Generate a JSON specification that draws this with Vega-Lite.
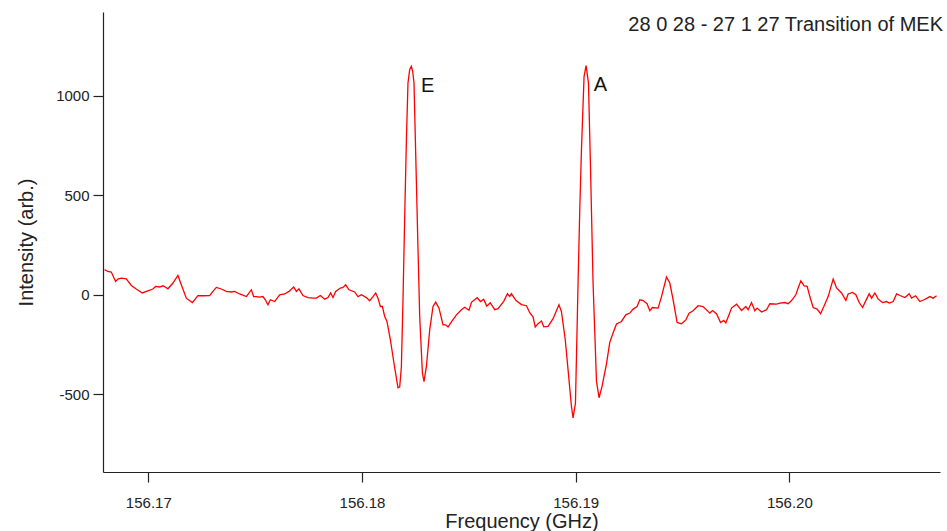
{
  "$schema": "https://vega.github.io/schema/vega-lite/v6.json",
  "width": 837,
  "height": 460,
  "autosize": {"type": "none"},
  "padding": {"left": 103, "top": 12, "right": 7, "bottom": 59},
  "background": "white",
  "config": {
    "view": {"stroke": null},
    "font": "Liberation Sans",
    "axis": {
      "domainColor": "#222222", "domainWidth": 1.2, "tickColor": "#222222", "tickWidth": 1.2, "tickSize": 10,
      "labelFont": "Liberation Sans", "labelFontSize": 15, "labelColor": "#222222",
      "titleFont": "Liberation Sans", "titleFontSize": 20, "titleFontWeight": "normal", "titleColor": "#222222",
      "grid": false
    }
  },
  "title": {
    "text": "28 0 28 - 27 1 27 Transition of MEK",
    "anchor": "end", "orient": "top", "offset": -15.5, "baseline": "alphabetic", "dx": 3, "dy": 23,
    "fontSize": 20, "fontWeight": "normal", "font": "Liberation Sans", "color": "#222222"
  },
  "datasets": {
    "spectrum": [
      {"freq":156.167954,"intensity":126},{"freq":156.168109,"intensity":117},{"freq":156.168268,"intensity":114},{"freq":156.168469,"intensity":67},{"freq":156.168577,"intensity":79},{"freq":156.168736,"intensity":84},{"freq":156.16897,"intensity":80},{"freq":156.169204,"intensity":47},{"freq":156.169438,"intensity":29},{"freq":156.169719,"intensity":9},{"freq":156.169981,"intensity":20},{"freq":156.170215,"intensity":29},{"freq":156.170342,"intensity":42},{"freq":156.170529,"intensity":39},{"freq":156.170684,"intensity":45},{"freq":156.170796,"intensity":39},{"freq":156.170918,"intensity":30},{"freq":156.171152,"intensity":59},{"freq":156.171386,"intensity":97},{"freq":156.171592,"intensity":37},{"freq":156.171779,"intensity":-17},{"freq":156.17206,"intensity":-39},{"freq":156.172322,"intensity":-4},{"freq":156.172556,"intensity":-5},{"freq":156.17287,"intensity":-4},{"freq":156.173024,"intensity":17},{"freq":156.173183,"intensity":37},{"freq":156.173418,"intensity":29},{"freq":156.173652,"intensity":17},{"freq":156.173886,"intensity":14},{"freq":156.17404,"intensity":17},{"freq":156.174274,"intensity":4},{"freq":156.174588,"intensity":-9},{"freq":156.174822,"intensity":25},{"freq":156.17493,"intensity":-9},{"freq":156.175056,"intensity":-9},{"freq":156.175211,"intensity":-12},{"freq":156.175365,"intensity":-9},{"freq":156.175477,"intensity":-25},{"freq":156.175599,"intensity":-50},{"freq":156.175712,"intensity":-25},{"freq":156.175913,"intensity":-34},{"freq":156.176147,"intensity":0},{"freq":156.176381,"intensity":4},{"freq":156.176582,"intensity":17},{"freq":156.176802,"intensity":39},{"freq":156.176929,"intensity":17},{"freq":156.177051,"intensity":30},{"freq":156.177238,"intensity":-4},{"freq":156.177472,"intensity":-14},{"freq":156.177706,"intensity":-17},{"freq":156.177865,"intensity":-17},{"freq":156.178052,"intensity":-4},{"freq":156.178254,"intensity":-22},{"freq":156.178408,"intensity":-14},{"freq":156.178535,"intensity":9},{"freq":156.178642,"intensity":-14},{"freq":156.178769,"intensity":17},{"freq":156.178989,"intensity":34},{"freq":156.17911,"intensity":37},{"freq":156.179237,"intensity":50},{"freq":156.179391,"intensity":25},{"freq":156.179658,"intensity":14},{"freq":156.179813,"intensity":-9},{"freq":156.179972,"intensity":0},{"freq":156.180206,"intensity":-14},{"freq":156.18036,"intensity":-30},{"freq":156.180515,"intensity":-9},{"freq":156.180641,"intensity":9},{"freq":156.180749,"intensity":-17},{"freq":156.180861,"intensity":-59},{"freq":156.180955,"intensity":-59},{"freq":156.181063,"intensity":-109},{"freq":156.18117,"intensity":-134},{"freq":156.181329,"intensity":-226},{"freq":156.181484,"intensity":-335},{"freq":156.18161,"intensity":-419},{"freq":156.181685,"intensity":-467},{"freq":156.181765,"intensity":-462},{"freq":156.181844,"intensity":-360},{"freq":156.181919,"intensity":-25},{"freq":156.181999,"intensity":393},{"freq":156.182079,"intensity":779},{"freq":156.182153,"intensity":1064},{"freq":156.182233,"intensity":1131},{"freq":156.182313,"intensity":1147},{"freq":156.182374,"intensity":1121},{"freq":156.182434,"intensity":1064},{"freq":156.182547,"intensity":561},{"freq":156.182622,"intensity":226},{"freq":156.182701,"intensity":-109},{"freq":156.182828,"intensity":-393},{"freq":156.182903,"intensity":-436},{"freq":156.183015,"intensity":-360},{"freq":156.183169,"intensity":-176},{"freq":156.183324,"intensity":-59},{"freq":156.18345,"intensity":-37},{"freq":156.183605,"intensity":-67},{"freq":156.183792,"intensity":-151},{"freq":156.183918,"intensity":-151},{"freq":156.184026,"intensity":-162},{"freq":156.184185,"intensity":-136},{"freq":156.18442,"intensity":-101},{"freq":156.184653,"intensity":-75},{"freq":156.184808,"intensity":-63},{"freq":156.185009,"intensity":-78},{"freq":156.185122,"intensity":-38},{"freq":156.185393,"intensity":-15},{"freq":156.185543,"intensity":-34},{"freq":156.185697,"intensity":-22},{"freq":156.185838,"intensity":-57},{"freq":156.186001,"intensity":-40},{"freq":156.186212,"intensity":-75},{"freq":156.186367,"intensity":-70},{"freq":156.186634,"intensity":-33},{"freq":156.186807,"intensity":5},{"freq":156.186915,"intensity":-8},{"freq":156.186994,"intensity":5},{"freq":156.187209,"intensity":-29},{"freq":156.187462,"intensity":-49},{"freq":156.187696,"intensity":-55},{"freq":156.187851,"intensity":-90},{"freq":156.188005,"intensity":-111},{"freq":156.188108,"intensity":-162},{"freq":156.18824,"intensity":-145},{"freq":156.188399,"intensity":-132},{"freq":156.188507,"intensity":-161},{"freq":156.188708,"intensity":-159},{"freq":156.188942,"intensity":-120},{"freq":156.189218,"intensity":-50},{"freq":156.189335,"intensity":-85},{"freq":156.189513,"intensity":-226},{"freq":156.189644,"intensity":-377},{"freq":156.189803,"intensity":-561},{"freq":156.189878,"intensity":-618},{"freq":156.18999,"intensity":-544},{"freq":156.190112,"intensity":59},{"freq":156.190192,"intensity":427},{"freq":156.190271,"intensity":729},{"freq":156.190393,"intensity":1097},{"freq":156.190487,"intensity":1151},{"freq":156.190599,"intensity":1064},{"freq":156.190693,"intensity":645},{"freq":156.190814,"intensity":59},{"freq":156.190974,"intensity":-435},{"freq":156.191095,"intensity":-517},{"freq":156.191231,"intensity":-461},{"freq":156.191442,"intensity":-347},{"freq":156.191596,"intensity":-239},{"freq":156.191751,"intensity":-192},{"freq":156.19191,"intensity":-147},{"freq":156.192144,"intensity":-134},{"freq":156.192345,"intensity":-101},{"freq":156.192533,"intensity":-92},{"freq":156.192687,"intensity":-72},{"freq":156.192874,"intensity":-59},{"freq":156.193001,"intensity":-25},{"freq":156.193155,"intensity":-29},{"freq":156.193342,"intensity":-45},{"freq":156.193469,"intensity":-80},{"freq":156.193595,"intensity":-64},{"freq":156.193857,"intensity":-67},{"freq":156.194017,"intensity":-9},{"freq":156.19425,"intensity":89},{"freq":156.194405,"intensity":59},{"freq":156.19456,"intensity":-25},{"freq":156.194747,"intensity":-139},{"freq":156.194953,"intensity":-146},{"freq":156.195154,"intensity":-126},{"freq":156.195309,"intensity":-92},{"freq":156.195496,"intensity":-80},{"freq":156.19573,"intensity":-55},{"freq":156.195964,"intensity":-59},{"freq":156.196278,"intensity":-92},{"freq":156.196404,"intensity":-79},{"freq":156.196591,"intensity":-95},{"freq":156.196779,"intensity":-139},{"freq":156.196933,"intensity":-129},{"freq":156.197027,"intensity":-142},{"freq":156.197134,"intensity":-112},{"freq":156.197294,"intensity":-67},{"freq":156.197528,"intensity":-47},{"freq":156.197762,"intensity":-79},{"freq":156.197963,"intensity":-59},{"freq":156.198071,"intensity":-75},{"freq":156.19823,"intensity":-39},{"freq":156.198384,"intensity":-80},{"freq":156.198492,"intensity":-67},{"freq":156.198698,"intensity":-87},{"freq":156.198932,"intensity":-75},{"freq":156.199087,"intensity":-45},{"freq":156.1994,"intensity":-47},{"freq":156.199555,"intensity":-42},{"freq":156.199789,"intensity":-39},{"freq":156.199943,"intensity":-45},{"freq":156.200103,"intensity":-29},{"freq":156.200304,"intensity":0},{"freq":156.200412,"intensity":34},{"freq":156.200538,"intensity":70},{"freq":156.200693,"intensity":45},{"freq":156.200833,"intensity":42},{"freq":156.200959,"intensity":-9},{"freq":156.201114,"intensity":-64},{"freq":156.201301,"intensity":-72},{"freq":156.20146,"intensity":-95},{"freq":156.201615,"intensity":-59},{"freq":156.201816,"intensity":-9},{"freq":156.20205,"intensity":79},{"freq":156.202209,"intensity":34},{"freq":156.202443,"intensity":9},{"freq":156.202645,"intensity":-29},{"freq":156.202752,"intensity":4},{"freq":156.202958,"intensity":12},{"freq":156.203113,"intensity":0},{"freq":156.203268,"intensity":-39},{"freq":156.203427,"intensity":-64},{"freq":156.203614,"intensity":-22},{"freq":156.203736,"intensity":5},{"freq":156.203848,"intensity":-17},{"freq":156.204003,"intensity":9},{"freq":156.204157,"intensity":-22},{"freq":156.204363,"intensity":-39},{"freq":156.20455,"intensity":-34},{"freq":156.204672,"intensity":-42},{"freq":156.204859,"intensity":-34},{"freq":156.205018,"intensity":4},{"freq":156.205206,"intensity":-5},{"freq":156.205407,"intensity":-14},{"freq":156.205608,"intensity":5},{"freq":156.205721,"intensity":-17},{"freq":156.205908,"intensity":-5},{"freq":156.206109,"intensity":-34},{"freq":156.206297,"intensity":-25},{"freq":156.206451,"intensity":-17},{"freq":156.206577,"intensity":-9},{"freq":156.206732,"intensity":-17},{"freq":156.206891,"intensity":-5}
    ],
    "labels": [
      {"freq": 156.183076, "intensity": 1047, "label": "E"},
      {"freq": 156.191161, "intensity": 1054, "label": "A"}
    ]
  },
  "layer": [
    {
      "data": {"name": "spectrum"},
      "mark": {"type": "line", "color": "#ff0000", "strokeWidth": 1.3, "clip": true},
      "encoding": {
        "x": {
          "field": "freq", "type": "quantitative",
          "scale": {"domain": [156.16788, 156.20705], "nice": false, "zero": false},
          "axis": {"values": [156.17, 156.18, 156.19, 156.20], "format": ".2f", "title": "Frequency (GHz)", "labelPadding": 13, "titlePadding": 1}
        },
        "y": {
          "field": "intensity", "type": "quantitative",
          "scale": {"domain": [-890, 1420], "nice": false, "zero": false},
          "axis": {"values": [-500, 0, 500, 1000], "labelExpr": "'' + datum.value", "title": "Intensity (arb.)", "labelPadding": 4, "titlePadding": 19}
        }
      }
    },
    {
      "data": {"name": "labels"},
      "mark": {"type": "text", "fontSize": 20, "font": "Liberation Sans", "color": "#111111", "align": "center", "baseline": "middle"},
      "encoding": {
        "x": {"field": "freq", "type": "quantitative"},
        "y": {"field": "intensity", "type": "quantitative"},
        "text": {"field": "label"}
      }
    }
  ]
}
